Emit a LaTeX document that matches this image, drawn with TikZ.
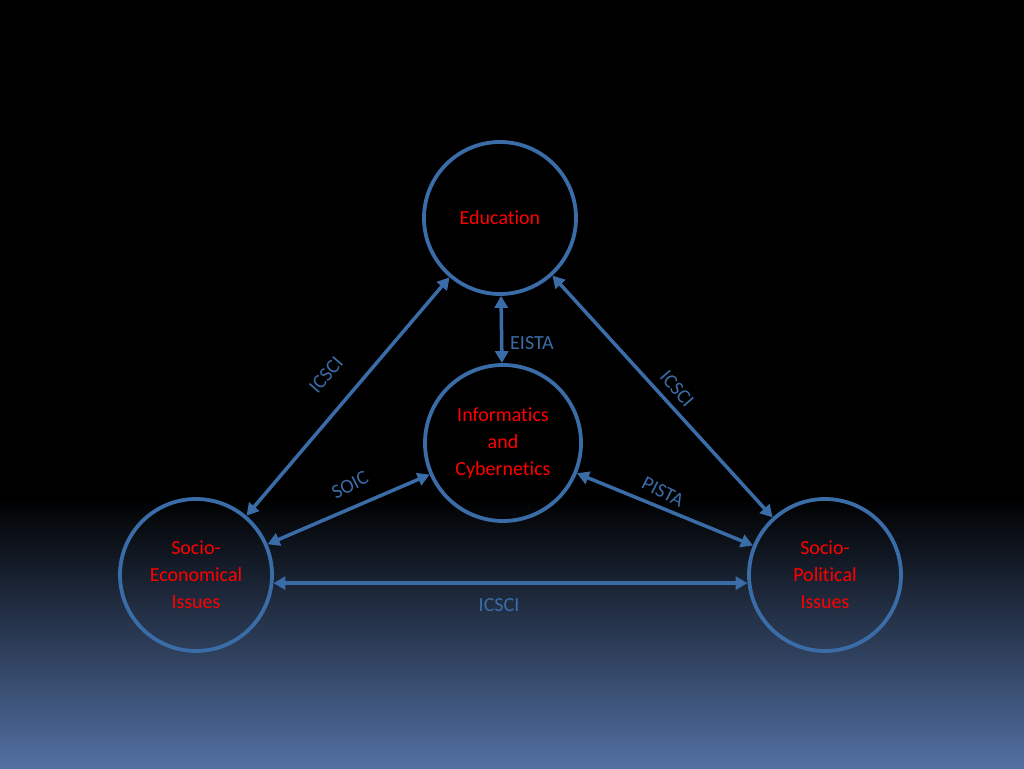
\documentclass[tikz,border=0pt]{standalone}
\usepackage{fontspec}
\setmainfont[Ligatures=NoCommon]{Carlito}
\usetikzlibrary{arrows.meta}
\definecolor{ln}{RGB}{58,108,168}
\definecolor{bot}{RGB}{82,112,162}
\begin{document}
\begin{tikzpicture}[x=1pt,y=1pt,
  circ/.style={circle,draw=ln,line width=3.8pt,minimum size=152pt,inner sep=0pt,text=red,font=\fontsize{20}{27}\selectfont,align=center},
  conn/.style={{Triangle[length=12pt,width=13pt]}-{Triangle[length=12pt,width=13pt]},draw=ln,line width=3.5pt},
  lab/.style={text=ln,font=\fontsize{20}{22}\selectfont}]
\useasboundingbox (0,0) rectangle (1024,768);
\fill[black] (0,0) rectangle (1024,768);
\shade[top color=black,bottom color=bot] (0,0) rectangle (1024,270);
\node[circ] (edu) at (500,550) {Education};
\node[circ,minimum size=156pt] (inf) at (503,325) {Informatics\\and\\Cybernetics};
\node[circ] (se) at (196,193) {Socio-\\Economical\\Issues};
\node[circ] (sp) at (825,193) {Socio-\\Political\\Issues};
\draw[conn] (edu) -- (se);
\draw[conn] (edu) -- (inf);
\draw[conn] (edu) -- (sp);
\draw[conn] (inf) -- (se);
\draw[conn] (inf) -- (sp);
\draw[conn] (se.-6) -- (sp.186);
\node[lab,rotate=49] (l1) at (326,393) {ICSCI};
\node[lab,rotate=-49] (l2) at (677,379) {ICSCI};
\node[lab] (l3) at (532,425) {EISTA};
\node[lab,rotate=27] (l4) at (350,283) {SOIC};
\node[lab,rotate=-27] (l5) at (663,276) {PISTA};
\node[lab] (l6) at (499,163) {ICSCI};
\end{tikzpicture}
\end{document}
